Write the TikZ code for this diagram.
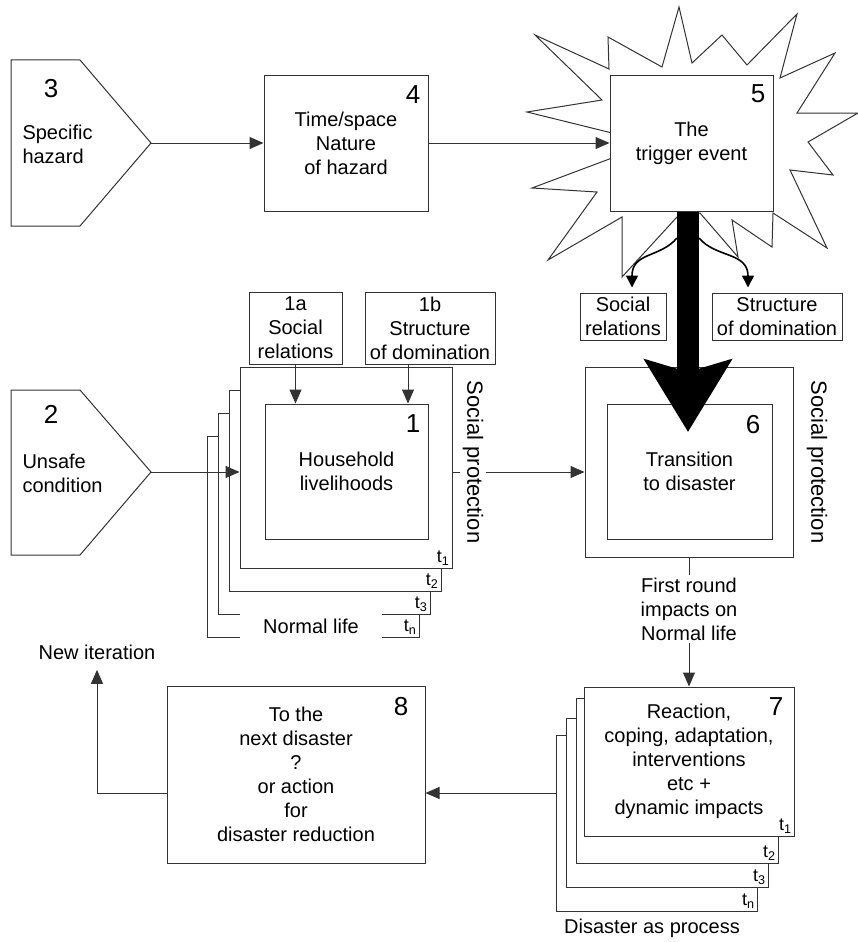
\documentclass[tikz,border=0pt]{standalone}
\usepackage{fontspec}
\setmainfont{Liberation Sans}
\usetikzlibrary{arrows.meta}

\begin{document}
\begin{tikzpicture}[x=1pt,y=-1pt,line width=1pt,
  every node/.style={font=\fontsize{20}{24}\selectfont,align=center,inner sep=0pt},
  box/.style={draw=black!80,fill=white},
  num/.style={font=\fontsize{26}{26}\selectfont},
  tlab/.style={font=\fontsize{18}{18}\selectfont,anchor=south east,inner sep=2.5pt},
  side/.style={font=\fontsize{22}{22}\selectfont,rotate=-90,fill=white,inner sep=3pt},
  arr/.style={draw=black!80,-{Triangle[length=14pt,width=12pt]}},
  curvearr/.style={line width=1.6pt,shorten >=5pt,-{Triangle[length=12pt,width=12pt]}}]
  \useasboundingbox (0,0) rectangle (858,942);

  % the burst behind box 5
  \draw[black!80,fill=white] (679,7) -- (692,63) -- (722,35) -- (747,65) -- (797,14)
    -- (780,78) -- (835,53) -- (797,113) -- (858,113) -- (808,142) -- (833,175)
    -- (790,170) -- (827,248) -- (773,213) -- (772,247) -- (732,220) -- (738,257)
    -- (700,213) -- (677,217) -- (622,277) -- (622,217) -- (548,260) -- (597,192)
    -- (532,188) -- (612,158) -- (612,133) -- (527,112) -- (602,100) -- (535,35)
    -- (609,69) -- (608,37) -- (662,67) -- cycle;

  % hazard and unsafe condition
  \draw[black!80] (11,60) -- (80,60) -- (151,143) -- (80,226) -- (11,226) -- cycle;
  \draw[black!80] (11,390) -- (80,390) -- (151,472) -- (80,555) -- (11,555) -- cycle;
  \coordinate (p3) at (151,143);
  \coordinate (p2) at (151,472);
  \node[num] (n3) at (51,89) {3};
  \node[anchor=west,align=left] (haz) at (22,144) {Specific\\hazard};
  \node[num] (n2) at (51,414) {2};
  \node[anchor=west,align=left] (unsafe) at (22,473) {Unsafe\\condition};

  \node[box,minimum width=164pt,minimum height=136pt] (b4) at (346,143) {Time/space\\Nature\\of hazard};
  \node[num] (n4) at (413,95) {4};
  \node[box,minimum width=163pt,minimum height=136pt] (b5) at (691.5,143) {The\\trigger event};
  \node[num] (n5) at (758,94) {5};

  % household livelihoods over time
  \node[box,minimum width=212pt,minimum height=201pt] (f1n) at (313,536.5) {};
  \node[box,minimum width=212pt,minimum height=201pt] (f13) at (324,513.5) {};
  \node[box,minimum width=212pt,minimum height=201pt] (f12) at (335,490.5) {};
  \node[box,minimum width=212pt,minimum height=201pt] (f11) at (346,467.5) {};
  \node[tlab] (l1n) at (f1n.south east) {t\textsubscript{n}};
  \node[tlab] (l13) at (f13.south east) {t\textsubscript{3}};
  \node[tlab] (l12) at (f12.south east) {t\textsubscript{2}};
  \node[tlab] (l11) at (f11.south east) {t\textsubscript{1}};
  \node[fill=white,minimum width=142pt,minimum height=28pt] (normal) at (311,626) {Normal life};
  \node[box,minimum width=163pt,minimum height=135pt] (b1) at (346.5,471.5) {Household\\livelihoods};
  \node[num] (n1) at (413,424) {1};
  \node[box,minimum width=93pt,minimum height=72pt] (b1a) at (295.5,328) {1a\\Social\\relations};
  \node[box,minimum width=130pt,minimum height=72pt] (b1b) at (430,328) {1b\\Structure\\of domination};

  % transition to disaster
  \node[box,minimum width=86pt,minimum height=47pt] (rsoc) at (623,316.5) {Social\\relations};
  \node[box,minimum width=130pt,minimum height=47pt] (rdom) at (777,316.5) {Structure\\of domination};
  \node[box,minimum width=208pt,minimum height=190pt] (b6out) at (689,462) {};
  \node[box,minimum width=165pt,minimum height=135pt] (b6) at (689.5,471.5) {Transition\\to disaster};
  \node[num] (n6) at (753,425) {6};
  \node[side] (sp6) at (817,462) {Social protection};

  % reactions over time
  \node[box,minimum width=201pt,minimum height=176pt] (f7n) at (656.5,823) {};
  \node[box,minimum width=202pt,minimum height=169pt] (f73) at (667,802.5) {};
  \node[box,minimum width=202pt,minimum height=165pt] (f72) at (677,780.5) {};
  \node[box,minimum width=210pt,minimum height=149pt] (f71) at (689,761.5)
    {Reaction,\\coping, adaptation,\\interventions\\etc +\\dynamic impacts};
  \node[tlab] (l7n) at (f7n.south east) {t\textsubscript{n}};
  \node[tlab] (l73) at (f73.south east) {t\textsubscript{3}};
  \node[tlab] (l72) at (f72.south east) {t\textsubscript{2}};
  \node[tlab] (l71) at (f71.south east) {t\textsubscript{1}};
  \node[num] (n7) at (776,707) {7};
  \node (dproc) at (652,928) {Disaster as process};

  \node[box,minimum width=258pt,minimum height=177pt] (b8) at (296,774.5)
    {To the\\next disaster\\?\\or action\\for\\disaster reduction};
  \node[num] (n8) at (401,707) {8};
  \node (newit) at (97,652) {New iteration};

  \draw[arr] (p3) -- (b4.west);
  \draw[arr] (b4.east) -- (b5.west);
  \draw[arr] (p2) -- (f11.west |- p2);
  \draw[arr] (b1a.south) -- (b1a.south |- b1.north);
  \draw[arr] ([xshift=-22pt]b1b.south) -- ([xshift=-22pt]b1b.south |- b1.north);
  \draw[arr] (f11.east |- p2) -- (b6out.west |- p2);
  \node[side] (sp1) at (473,462) {Social protection};
  \draw[arr] (b6out.south) -- node[fill=white,pos=0.4,inner sep=3pt] (first)
    {First round\\impacts on\\Normal life} (f71.north);
  \coordinate (a78) at (0,793);
  \draw[arr] (f7n.west |- a78) -- (b8.east |- a78);
  \draw[arr] (b8.west |- a78) -| ([yshift=-10pt]newit.south);

  % the trigger hits
  \coordinate (hit) at (688,432);
  \coordinate (bl) at (677,238);
  \coordinate (br) at (699,238);
  \draw[line width=22pt,-{Stealth[length=72pt,width=86pt,inset=12pt]}] ([xshift=-3.5pt]b5.south) -- (hit);
  \draw[curvearr] (bl) .. controls (660,258) and (632,252) .. ([xshift=9pt]rsoc.north);
  \draw[curvearr] (br) .. controls (716,258) and (748,252) .. ([xshift=-29pt]rdom.north);
\end{tikzpicture}
\end{document}
